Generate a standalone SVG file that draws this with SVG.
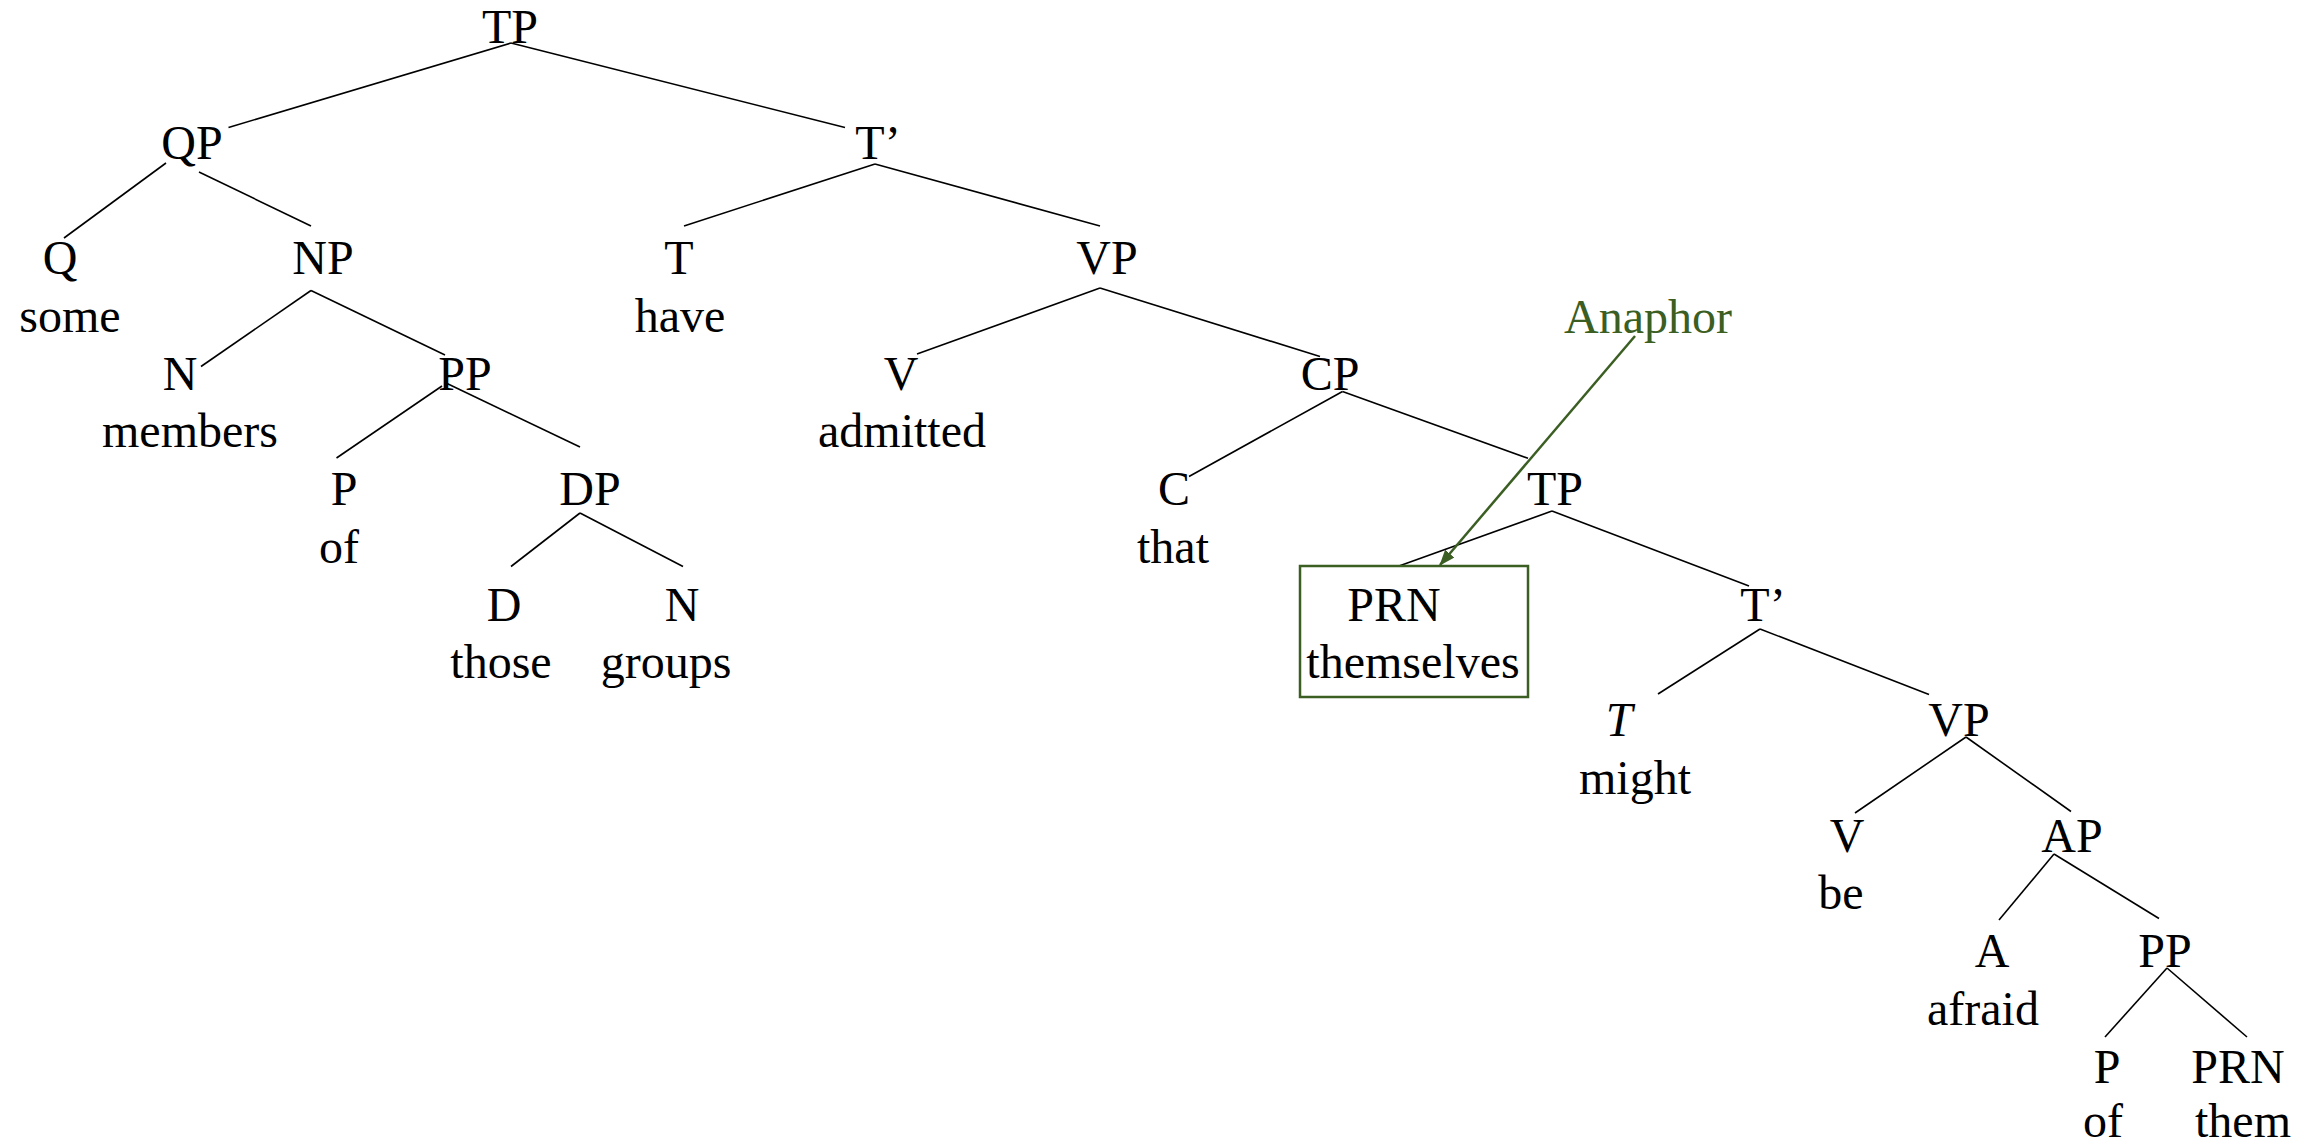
<svg xmlns="http://www.w3.org/2000/svg" width="2304" height="1144" viewBox="0 0 2304 1144">
<style>
text{font-family:"Liberation Serif","Times New Roman",serif;font-size:48px;fill:#000;text-anchor:middle}
.e line{stroke:#000;stroke-width:1.6}
.g{fill:#3b5e23}
</style>
<defs>
<marker id="ah" markerWidth="16" markerHeight="12" refX="15" refY="6" orient="auto" markerUnits="userSpaceOnUse">
<path d="M0,0 L16,6 L0,12 Z" fill="#3b5e23"/>
</marker>
</defs>
<rect width="2304" height="1144" fill="#fff"/>
<g id="edges" class="e">
<line x1="511" y1="43" x2="228.5" y2="127.5"/>
<line x1="511" y1="43" x2="845" y2="127.5"/>
<line x1="166" y1="163" x2="64" y2="238"/>
<line x1="199" y1="172" x2="311" y2="226"/>
<line x1="311" y1="290.5" x2="201" y2="366.5"/>
<line x1="311" y1="290.5" x2="445" y2="355"/>
<line x1="875" y1="164" x2="684" y2="226"/>
<line x1="875" y1="164" x2="1100" y2="226"/>
<line x1="442" y1="386" x2="336.5" y2="458"/>
<line x1="446" y1="383" x2="580" y2="447"/>
<line x1="1100" y1="288" x2="917" y2="354"/>
<line x1="1100" y1="288" x2="1320" y2="356.5"/>
<line x1="580" y1="513" x2="511" y2="566.5"/>
<line x1="580" y1="513" x2="683" y2="566.5"/>
<line x1="1342.5" y1="391.5" x2="1189" y2="476.5"/>
<line x1="1342.5" y1="391.5" x2="1528" y2="458.3"/>
<line x1="1552" y1="511" x2="1399" y2="566"/>
<line x1="1552" y1="511" x2="1749" y2="586"/>
<line x1="1760" y1="629" x2="1658" y2="694"/>
<line x1="1760" y1="629" x2="1929" y2="694.5"/>
<line x1="1966" y1="737" x2="1855" y2="813"/>
<line x1="1966" y1="737" x2="2071" y2="811.5"/>
<line x1="2054" y1="854" x2="1999" y2="920"/>
<line x1="2054" y1="854" x2="2159" y2="918.5"/>
<line x1="2167" y1="968" x2="2105" y2="1037"/>
<line x1="2167" y1="968" x2="2247" y2="1037"/>
</g>
<g id="n-tp"><text x="510" y="43">TP</text></g>
<g id="n-qp"><text x="192" y="158.5">QP</text></g>
<g id="n-tbar"><text x="878" y="158.5">T’</text></g>
<g id="n-q"><text x="60" y="274">Q</text><text x="70" y="331.5">some</text></g>
<g id="n-np"><text x="323" y="274">NP</text></g>
<g id="n-t"><text x="679" y="274">T</text><text x="680" y="331.5">have</text></g>
<g id="n-vp"><text x="1107" y="274">VP</text></g>
<g id="n-n"><text x="180" y="389.5">N</text><text x="190" y="447">members</text></g>
<g id="n-pp"><text x="465" y="389.5">PP</text></g>
<g id="n-v"><text x="901" y="389.5">V</text><text x="902" y="447">admitted</text></g>
<g id="n-cp"><text x="1330" y="389.5">CP</text></g>
<g id="n-anaphor"><text class="g" x="1648" y="333">Anaphor</text></g>
<g id="n-p"><text x="344" y="505">P</text><text x="339" y="562.5">of</text></g>
<g id="n-dp"><text x="590" y="505">DP</text></g>
<g id="n-c"><text x="1174" y="505">C</text><text x="1173" y="562.5">that</text></g>
<g id="n-tp2"><text x="1555" y="505">TP</text></g>
<g id="n-d"><text x="504" y="620.5">D</text><text x="501" y="678">those</text></g>
<g id="n-n2"><text x="682" y="620.5">N</text><text x="666" y="678">groups</text></g>
<g id="n-prn"><rect x="1300" y="566" width="228" height="131" fill="none" stroke="#3b5e23" stroke-width="2.5"/><text x="1394" y="620.5">PRN</text><text x="1413" y="678">themselves</text></g>
<g id="n-tbar2"><text x="1763" y="620.5">T’</text></g>
<g id="n-t2"><text x="1619" y="736" font-style="italic">T</text><text x="1635" y="793.5">might</text></g>
<g id="n-vp2"><text x="1959" y="736">VP</text></g>
<g id="n-v2"><text x="1847" y="851.5">V</text><text x="1841" y="909">be</text></g>
<g id="n-ap"><text x="2072" y="851.5">AP</text></g>
<g id="n-a"><text x="1992" y="967">A</text><text x="1983" y="1024.5">afraid</text></g>
<g id="n-pp2"><text x="2165" y="967">PP</text></g>
<g id="n-p2"><text x="2107" y="1082.5">P</text><text x="2103" y="1137">of</text></g>
<g id="n-prn2"><text x="2238" y="1082.5">PRN</text><text x="2243" y="1137">them</text></g>
<g id="arrow"><line x1="1635" y1="336" x2="1440" y2="565" stroke="#3b5e23" stroke-width="2.5" marker-end="url(#ah)"/></g>
</svg>
